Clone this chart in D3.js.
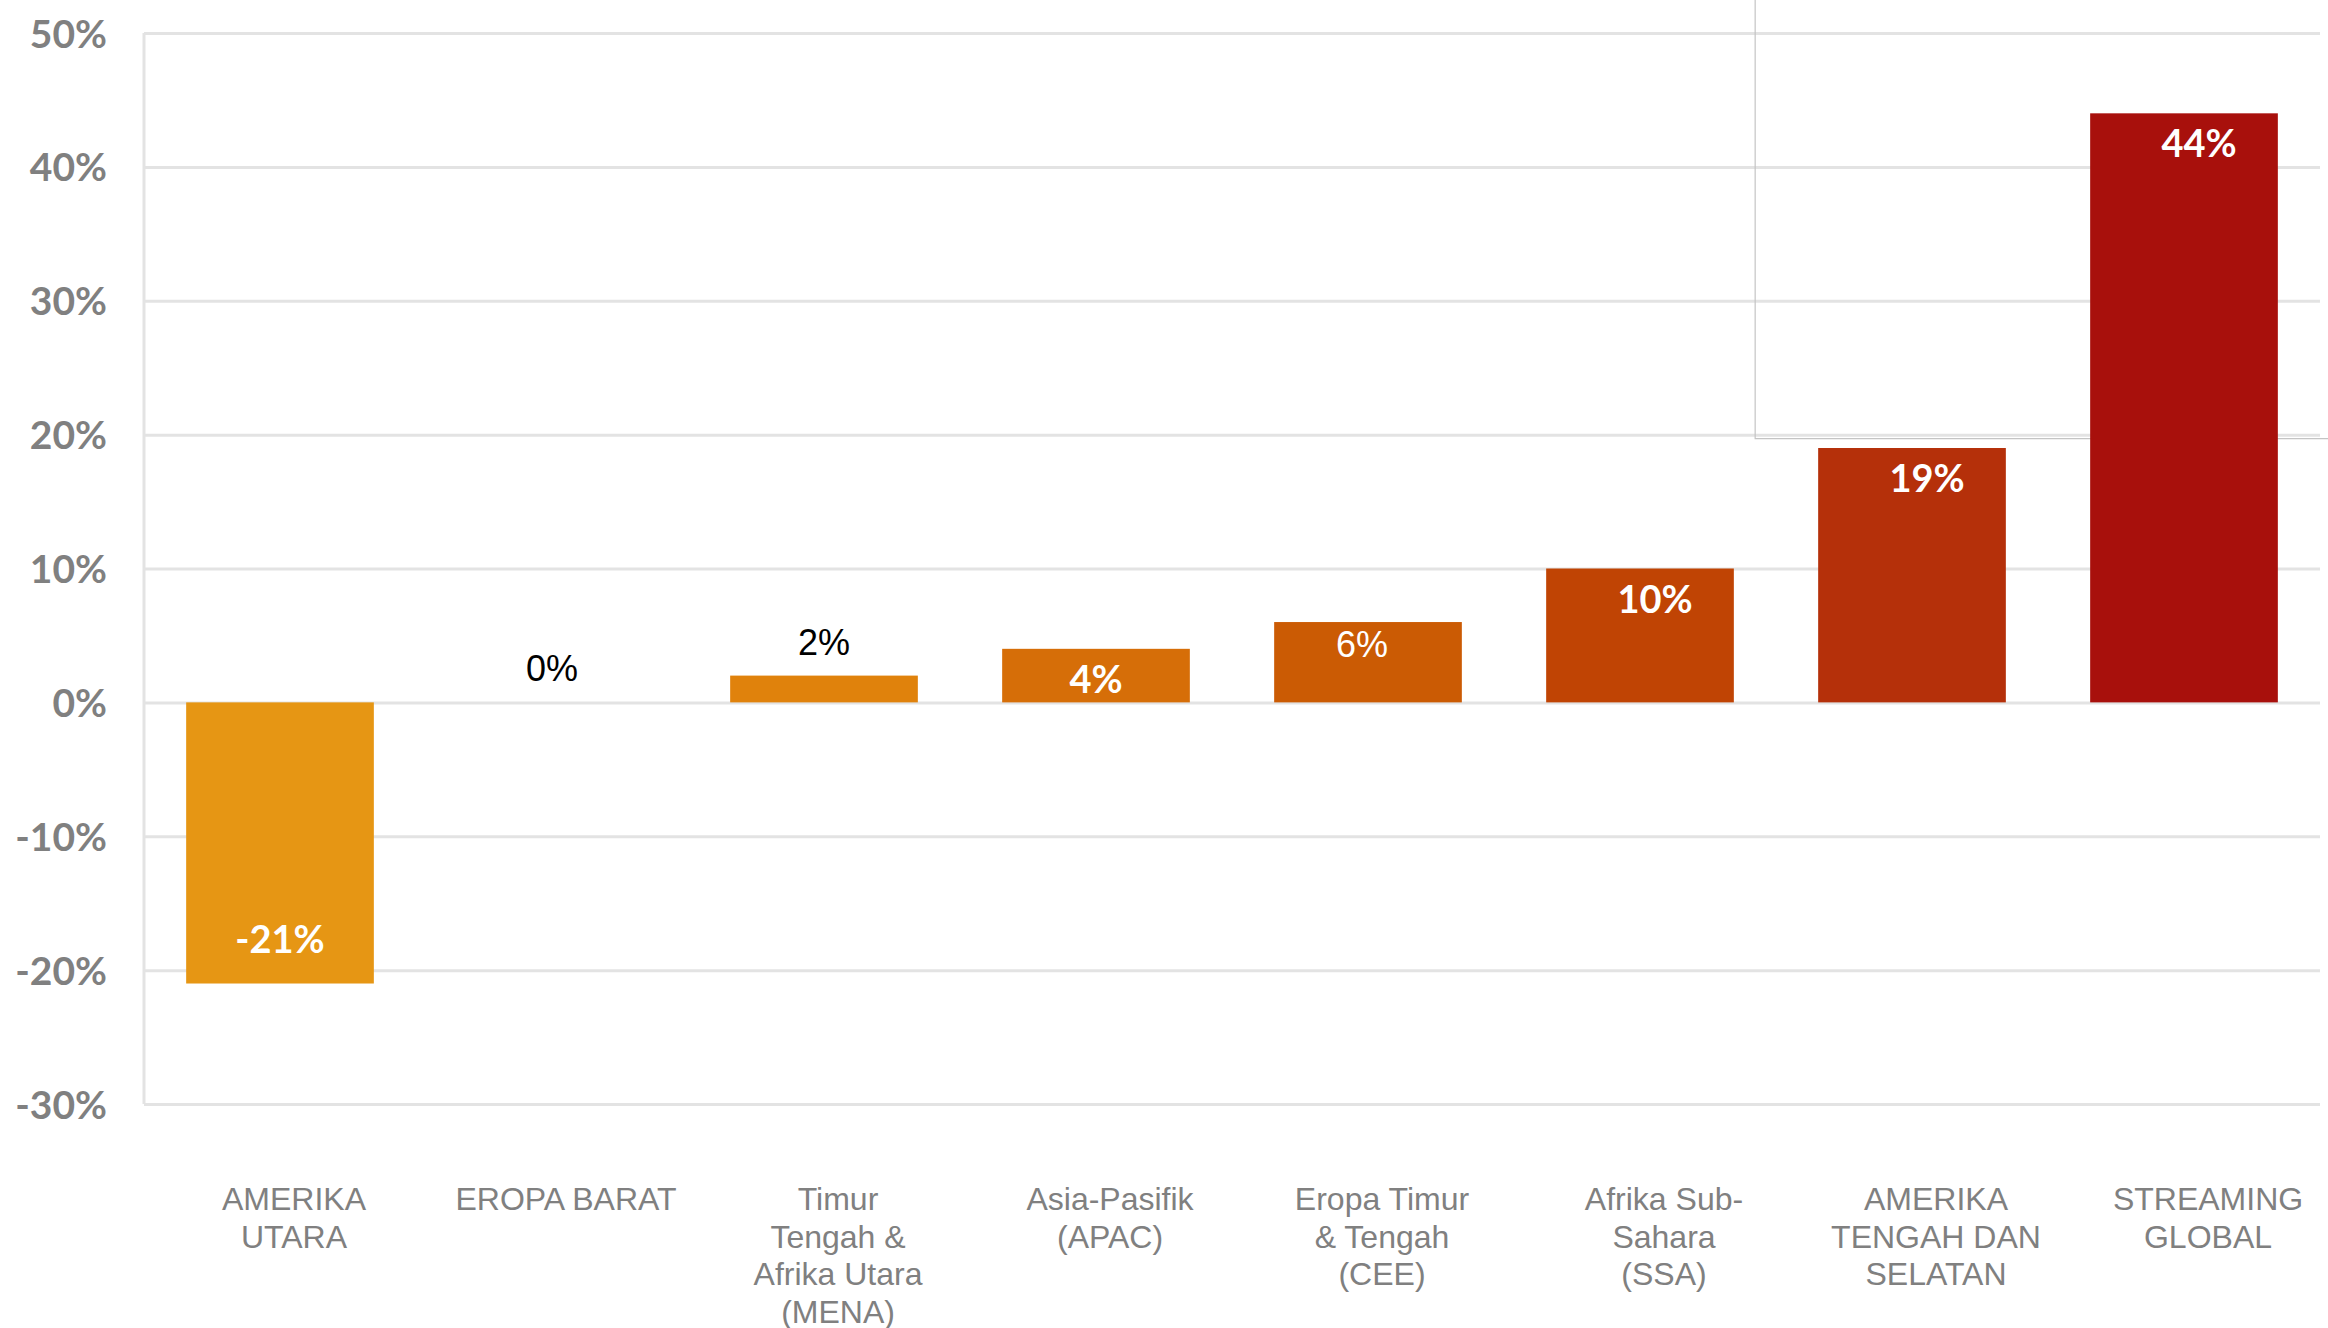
<!DOCTYPE html>
<html>
<head>
<meta charset="utf-8">
<script src="https://cdn.jsdelivr.net/npm/d3@7"></script>
<style>
  body { margin: 0; background: #fff; }
  .tick-label { font-family: Lato, 'Open Sans', sans-serif; font-weight: 700; fill: #808080; }
  .cat-label { font-family: 'Liberation Sans', Arial, sans-serif; fill: #808080; }
</style>
</head>
<body>
<div class="chart"></div>
<script>
const svgWidth = 2328;
const svgHeight = 1328;

// data
const categories = [
  'AMERIKA\nUTARA',
  'EROPA BARAT',
  'Timur\nTengah &\nAfrika Utara\n(MENA)',
  'Asia-Pasifik\n(APAC)',
  'Eropa Timur\n& Tengah\n(CEE)',
  'Afrika Sub-\nSahara\n(SSA)',
  'AMERIKA\nTENGAH DAN\nSELATAN',
  'STREAMING\nGLOBAL'
];
const values = [-21, 0, 2, 4, 6, 10, 19, 44];
const yTicks = [-30, -20, -10, 0, 10, 20, 30, 40, 50];

const barColors = ['#e69614', '#e38a10', '#e0820c', '#d66e08', '#cb5b04', '#c04404', '#b5300a', '#a8100c'];

const margin = { top: 33, right: 8, bottom: 224, left: 144 };
const width = svgWidth - margin.left - margin.right;
const height = svgHeight - margin.top - margin.bottom;

const svg = d3.select('.chart')
  .append('svg')
  .attr('width', svgWidth)
  .attr('height', svgHeight)
  .style('background', '#fff');

const x = d3.scaleBand()
  .domain(categories)
  .range([0, width])
  .paddingInner(0.31)
  .paddingOuter(0.155);

const y = d3.scaleLinear()
  .domain([-30, 50])
  .range([height, 0]);

const chartGroup = svg.append('g')
  .attr('transform', `translate(${margin.left}, ${margin.top})`);

// gridlines + tick labels
const yAxis = d3.axisLeft(y)
  .tickValues(yTicks)
  .tickSize(-width)
  .tickPadding(37)
  .tickFormat(d => d + '%');

const axisG = chartGroup.append('g').call(yAxis);
axisG.select('.domain').remove();
axisG.selectAll('.tick line')
  .attr('stroke', '#e3e3e3')
  .attr('stroke-width', 3);
axisG.selectAll('.tick text')
  .attr('class', 'tick-label')
  .attr('font-size', 39)
  .attr('dy', '0.36em')
  .attr('fill', null);

// left axis line
chartGroup.append('line')
  .attr('x1', 0).attr('x2', 0)
  .attr('y1', 0).attr('y2', height)
  .attr('stroke', '#e3e3e3')
  .attr('stroke-width', 3);

// stray frame lines left over in the source image (behind the bars)
chartGroup.append('path')
  .attr('d', `M${x(categories[6]) - 63},${-margin.top} V${y(20) + 4} H${svgWidth}`)
  .attr('fill', 'none')
  .attr('stroke', '#c4c4c4')
  .attr('stroke-width', 1.2);

// bars
chartGroup.selectAll('rect.bar')
  .data(values)
  .enter()
  .append('rect')
  .attr('class', 'bar')
  .attr('x', (d, i) => x(categories[i]))
  .attr('width', x.bandwidth())
  .attr('y', d => y(Math.max(0, d)))
  .attr('height', d => Math.abs(y(d) - y(0)))
  .attr('fill', (d, i) => barColors[i]);

// value labels
const lightLabels = [1, 2, 4];
chartGroup.selectAll('text.value')
  .data(values)
  .enter()
  .append('text')
  .attr('class', 'value')
  .attr('text-anchor', 'middle')
  .attr('x', (d, i) => x(categories[i]) + x.bandwidth() / 2 + (d > 6 ? 15 : (d === 6 ? -6 : 0)))
  .attr('y', d => {
    if (d < 0) return y(d) - 31;
    if (d <= 2) return y(d) - 21;
    if (d === 6) return y(d) + 35;
    return y(d) + 44;
  })
  .attr('font-family', (d, i) => lightLabels.includes(i) ? "'Liberation Sans', Arial, sans-serif" : 'Lato, sans-serif')
  .attr('font-weight', (d, i) => lightLabels.includes(i) ? 400 : 700)
  .attr('font-size', (d, i) => lightLabels.includes(i) ? 36 : 38)
  .attr('fill', d => (d <= 2 && d >= 0) ? '#000' : '#fff')
  .text(d => d + '%');

// category labels
const catG = chartGroup.selectAll('text.cat')
  .data(categories)
  .enter()
  .append('text')
  .attr('class', 'cat-label')
  .attr('text-anchor', 'middle')
  .attr('font-size', 32)
  .attr('transform', (d, i) => `translate(${x(d) + x.bandwidth() / 2 + 14 + (i >= 5 ? 10 : 0)}, ${1210 - margin.top})`);

catG.each(function(d) {
  const t = d3.select(this);
  d.split('\n').forEach((line, k) => {
    t.append('tspan')
      .attr('x', 0)
      .attr('y', k * 37.5)
      .text(line);
  });
});
</script>
</body>
</html>
